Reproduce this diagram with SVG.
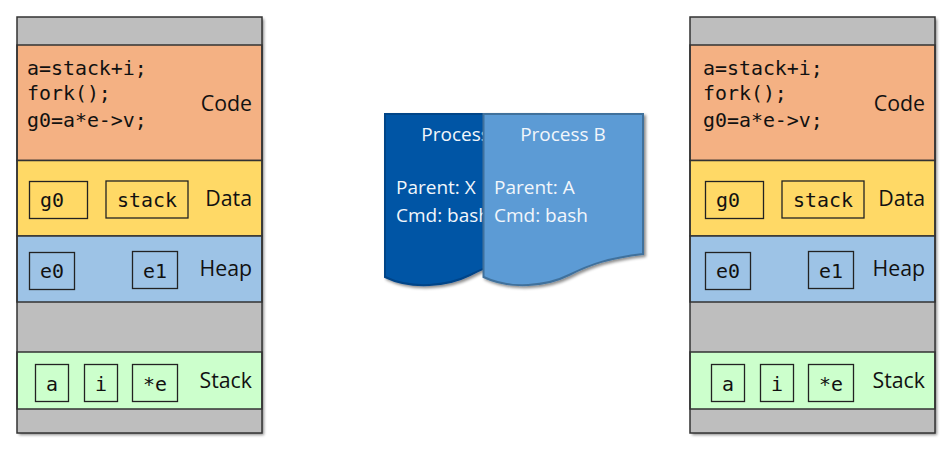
<svg xmlns="http://www.w3.org/2000/svg" xmlns:xlink="http://www.w3.org/1999/xlink" width="951" height="450" viewBox="0 0 951 450">
<style>
text{font-family:"Open Sans","Noto Sans",sans-serif;font-size:21.300px;fill:#111}
.m{font-family:"DejaVu Sans Mono","Liberation Mono",monospace;font-size:19.900px;fill:#111}
.c{text-anchor:middle}
.e{text-anchor:end}
.s{stroke:#333;stroke-width:1.5}
.b{fill:none;stroke:#222;stroke-width:1.3}
.w{fill:#f2f6fb;font-size:19px}
</style>
<defs>
<filter id="sh" x="-5%" y="-5%" width="112%" height="112%"><feDropShadow dx="2" dy="2" stdDeviation="1.8" flood-color="#000" flood-opacity=".45"/></filter>
<g id="frame">
<rect x="17" y="17" width="245" height="416" fill="#bebebe" filter="url(#sh)"/>
<rect class="s" x="17" y="45" width="245" height="115.500" fill="#f4b183"/>
<rect class="s" x="17" y="160.500" width="245" height="75.500" fill="#ffd966"/>
<rect class="s" x="17" y="236" width="245" height="66" fill="#9dc3e6"/>
<rect class="s" x="17" y="352" width="245" height="57" fill="#ccffcc"/>
<rect x="17" y="17" width="245" height="416" fill="none" stroke="#333" stroke-width="1.500"/>
<text class="e" x="252" y="111">Code</text>
<text class="e" x="252" y="205.500">Data</text>
<text class="e" x="252" y="276">Heap</text>
<text class="e" x="252" y="388">Stack</text>
</g>
<g id="inner">
<text class="m" x="27" y="74.500">a=stack+i;</text>
<text class="m" x="27" y="100">fork();</text>
<text class="m" x="27" y="127">g0=a*e-&gt;v;</text>
<rect class="b" x="29.500" y="181.500" width="58" height="37"/>
<text class="m" x="40" y="207">g0</text>
<rect class="b" x="106" y="181" width="82" height="37"/>
<text class="m" x="117" y="207">stack</text>
<rect class="b" x="29.500" y="252.500" width="45" height="37"/>
<text class="m" x="40" y="278">e0</text>
<rect class="b" x="132.500" y="251.500" width="45" height="37"/>
<text class="m" x="143" y="278">e1</text>
<rect class="b" x="35.500" y="364.500" width="33" height="37"/>
<text class="m c" x="52" y="391">a</text>
<rect class="b" x="84.500" y="364.500" width="33" height="37"/>
<text class="m c" x="101" y="391">i</text>
<rect class="b" x="132.500" y="364.500" width="45" height="37"/>
<text class="m c" x="155" y="391">*e</text>
</g>
</defs>
<g id="connectors"></g>
<g id="memory-left"><use xlink:href="#frame" href="#frame"/><use xlink:href="#inner" href="#inner"/></g>
<g id="memory-right"><use xlink:href="#frame" href="#frame" x="673"/><use xlink:href="#inner" href="#inner" x="676"/></g>
<g id="process-a">
<path d="M385 114H544V254C510 258 492 264 470 275C448 286 412 290 385 277Z" fill="#0055a5" stroke="#004488" stroke-width="2" filter="url(#sh)"/>
<text class="w c" x="464" y="141">Process A</text>
<text class="w" x="396" y="194">Parent: X</text>
<text class="w" x="396" y="221.500">Cmd: bash</text>
</g>
<g id="process-b">
<path d="M483.500 114H643V254C609 258 591 264 569 275C547 286 511 290 483.500 277Z" fill="#5b9bd5" stroke="#41719c" stroke-width="2" filter="url(#sh)"/>
<text class="w c" x="563" y="141">Process B</text>
<text class="w" x="494" y="194">Parent: A</text>
<text class="w" x="494" y="221.500">Cmd: bash</text>
</g>
</svg>
